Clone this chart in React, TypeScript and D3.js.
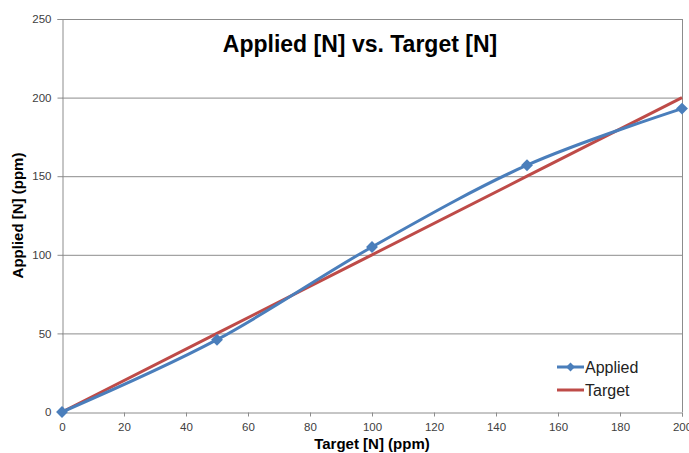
import React, { useEffect, useRef } from "react";
import * as d3 from "d3";

const targetX = [0, 50, 100, 150, 200];
const appliedY = [0, 46, 105, 157, 193];
const targetY = [0, 50, 100, 150, 200];
const xTicks = [0, 20, 40, 60, 80, 100, 120, 140, 160, 180, 200];
const yTicks = [0, 50, 100, 150, 200, 250];

const W = 689;
const H = 453;

const App: React.FC = () => {
  const ref: any = useRef();

  useEffect(() => {
    const svg = d3.select(ref.current);
    svg.selectAll("*").remove();

    const left = 62, right = 682, top = 19, bottom = 412;
    const x = d3.scaleLinear().domain([0, 200]).range([left, right]);
    const y = d3.scaleLinear().domain([0, 250]).range([bottom, top]);

    svg.append("rect").attr("width", W).attr("height", H).attr("fill", "#fff");

    // gridlines
    svg
      .append("g")
      .selectAll("line")
      .data(yTicks.filter((d) => d > 0))
      .join("line")
      .attr("x1", left)
      .attr("x2", right)
      .attr("y1", (d) => y(d) + 0.5)
      .attr("y2", (d) => y(d) + 0.5)
      .attr("stroke", "#8c8c8c")
      .attr("stroke-width", 1);

    // plot border right
    svg
      .append("line")
      .attr("x1", right + 0.5)
      .attr("x2", right + 0.5)
      .attr("y1", top)
      .attr("y2", bottom)
      .attr("stroke", "#8c8c8c");

    const xAxis = svg
      .append("g")
      .attr("transform", `translate(0,${bottom + 0.5})`)
      .call(
        d3.axisBottom(x).tickValues(xTicks).tickSize(4).tickPadding(6).tickFormat(d3.format("d")) as any
      );
    const yAxis = svg
      .append("g")
      .attr("transform", `translate(${left + 0.5},0)`)
      .call(
        d3.axisLeft(y).tickValues(yTicks).tickSize(5).tickPadding(6).tickFormat(d3.format("d")) as any
      );
    [xAxis, yAxis].forEach((a) => {
      a.select(".domain").attr("stroke", "#8c8c8c");
      a.selectAll(".tick line").attr("stroke", "#8c8c8c");
      a.selectAll(".tick text")
        .attr("fill", "#404040")
        .style("font-family", "Liberation Sans, Arial, sans-serif")
        .style("font-size", "11.5px");
    });

    const line: any = d3
      .line()
      .x((d: any) => x(d[0]))
      .y((d: any) => y(d[1]));

    const applied = targetX.map((v, i) => [v, appliedY[i]]);
    const target = targetX.map((v, i) => [v, targetY[i]]);

    svg
      .append("path")
      .datum(target)
      .attr("fill", "none")
      .attr("stroke", "#be4b48")
      .attr("stroke-width", 3)
      .attr("d", line);

    svg
      .append("path")
      .datum(applied)
      .attr("fill", "none")
      .attr("stroke", "#4a7ebb")
      .attr("stroke-width", 3)
      .attr("d", line.curve(d3.curveCatmullRom.alpha(0)));

    const diamond = d3.symbol().type(d3.symbolDiamond2).size(90);
    svg
      .append("g")
      .selectAll("path")
      .data(applied)
      .join("path")
      .attr("transform", (d: any) => `translate(${x(d[0])},${y(d[1])})`)
      .attr("d", diamond as any)
      .attr("fill", "#4a7ebb");

    // title
    svg
      .append("text")
      .attr("x", 360)
      .attr("y", 52)
      .attr("text-anchor", "middle")
      .style("font-family", "Liberation Sans, Arial, sans-serif")
      .style("font-weight", "bold")
      .style("font-size", "23px")
      .attr("fill", "#000")
      .text("Applied [N] vs. Target [N]");

    svg
      .append("text")
      .attr("x", 372)
      .attr("y", 449)
      .attr("text-anchor", "middle")
      .style("font-family", "Liberation Sans, Arial, sans-serif")
      .style("font-weight", "bold")
      .style("font-size", "15px")
      .text("Target [N] (ppm)");

    svg
      .append("text")
      .attr("transform", `translate(23,${(top + bottom) / 2}) rotate(-90)`)
      .attr("text-anchor", "middle")
      .style("font-family", "Liberation Sans, Arial, sans-serif")
      .style("font-weight", "bold")
      .style("font-size", "15px")
      .text("Applied [N] (ppm)");

    // legend
    const legend = svg.append("g");
    const items = [
      { name: "Applied", color: "#4a7ebb", marker: true },
      { name: "Target", color: "#be4b48", marker: false },
    ];
    items.forEach((it, i) => {
      const ly = 367 + i * 23;
      legend
        .append("line")
        .attr("x1", 557)
        .attr("x2", 584)
        .attr("y1", ly)
        .attr("y2", ly)
        .attr("stroke", it.color)
        .attr("stroke-width", 3);
      if (it.marker) {
        legend
          .append("path")
          .attr("transform", `translate(570.5,${ly})`)
          .attr("d", d3.symbol().type(d3.symbolDiamond2).size(50)() as any)
          .attr("fill", it.color);
      }
      legend
        .append("text")
        .attr("x", 585)
        .attr("y", ly + 5.5)
        .style("font-family", "Liberation Sans, Arial, sans-serif")
        .style("font-size", "16px")
        .attr("fill", "#222")
        .text(it.name);
    });
  }, []);

  return (
    <svg
      ref={ref}
      width={W}
      height={H}
      style={{ position: "absolute", left: 0, top: 0 }}
    />
  );
};

export default App;
